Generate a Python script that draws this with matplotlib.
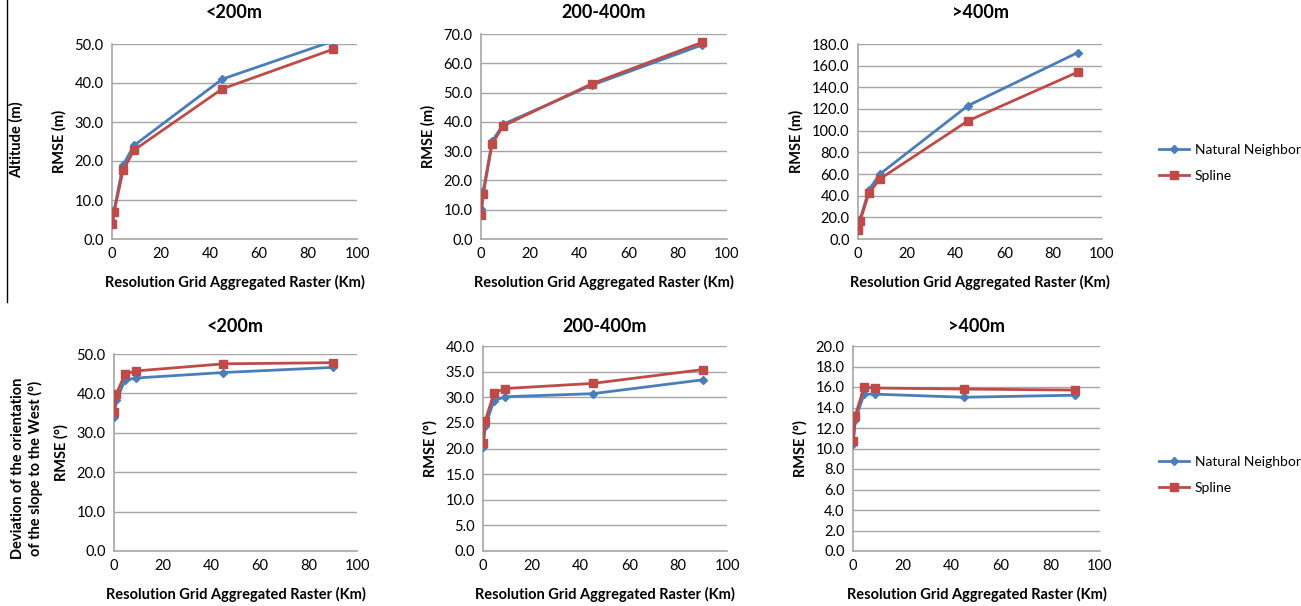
import matplotlib
matplotlib.use("Agg")
import matplotlib.pyplot as plt
from matplotlib.lines import Line2D

plt.rcParams["font.family"] = ["Lato", "DejaVu Sans"]

# resolution of the aggregated raster (km)
res_km = [0.09, 0.9, 4.5, 9, 45, 90]

titles = ["<200m", "200-400m", ">400m"]

# altitude RMSE (m)
alt_nn = [
    [4.5, 7.5, 19.0, 24.0, 41.0, 50.7],
    [10.3, 16.4, 33.3, 39.2, 52.5, 66.3],
    [10.5, 18.5, 45.5, 60.0, 123.0, 172.0],
]
alt_spline = [
    [3.8, 7.0, 17.6, 22.8, 38.5, 48.6],
    [8.3, 15.2, 32.4, 38.6, 53.0, 67.2],
    [8.5, 17.0, 42.5, 55.5, 109.0, 154.0],
]

# deviation of slope orientation RMSE (deg)
dev_nn = [
    [33.9, 38.2, 43.3, 43.9, 45.3, 46.6],
    [20.3, 24.4, 29.3, 30.1, 30.7, 33.4],
    [10.4, 12.8, 15.3, 15.3, 15.0, 15.2],
]
dev_spline = [
    [35.4, 39.8, 44.9, 45.7, 47.5, 47.8],
    [21.1, 25.4, 30.8, 31.7, 32.7, 35.4],
    [10.7, 13.2, 16.0, 15.9, 15.8, 15.7],
]

alt_ymax = [50, 70, 180]
alt_ystep = [10, 10, 20]
dev_ymax = [50, 40, 20]
dev_ystep = [10, 5, 2]

blue = "#4A7EBB"
red = "#BE4B48"
grid = "#A6A6A6"

W, H = 1301, 606
fig = plt.figure(figsize=(W / 100, H / 100), dpi=100)

# axes boxes in pixels: left, right, top, bottom
top_boxes = [(112, 357, 44, 239), (481, 727, 34, 239), (858, 1102, 44, 239)]
bot_boxes = [(114, 357, 354, 551), (483, 727, 346, 551), (853, 1100, 346, 551)]


def make_ax(box):
    l, r, t, b = box
    return fig.add_axes([l / W, 1 - b / H, (r - l) / W, (b - t) / H])


def draw_panel(ax, nn, sp, ymax, ystep, ylabel):
    ax.plot(res_km, nn, color=blue, marker="D", markersize=4, lw=2,
            label="Natural Neighbor", zorder=3)
    ax.plot(res_km, sp, color=red, marker="s", markersize=6, lw=2,
            label="Spline", zorder=3)
    ax.set_xlim(0, 100)
    ax.set_ylim(0, ymax)
    ax.set_xticks(range(0, 101, 20))
    yt = [i * ystep for i in range(int(round(ymax / ystep)) + 1)]
    ax.set_yticks(yt)
    ax.set_yticklabels([f"{v:.1f}" for v in yt])
    ax.grid(axis="y", color=grid, lw=1)
    ax.set_axisbelow(True)
    for s in ["top", "right"]:
        ax.spines[s].set_visible(False)
    for s in ["left", "bottom"]:
        ax.spines[s].set_color(grid)
        ax.spines[s].set_linewidth(1.2)
    ax.tick_params(length=0, labelsize=10.5, pad=6)
    ax.set_xlabel("Resolution Grid Aggregated Raster (Km)", fontsize=10.5,
                  fontweight="bold", labelpad=10)
    ax.set_ylabel(ylabel, fontsize=10.5, fontweight="bold", labelpad=6)


def add_legend(ax, y_px):
    h, l = ax.get_legend_handles_labels()
    fig.legend(h, l, loc="center left", bbox_to_anchor=(1146 / W, 1 - y_px / H),
               frameon=False, fontsize=10, handlelength=2.2, handletextpad=0.4,
               labelspacing=1.0)


for i in range(3):
    ax = make_ax(top_boxes[i])
    draw_panel(ax, alt_nn[i], alt_spline[i], alt_ymax[i], alt_ystep[i], "RMSE (m)")
    cx = (top_boxes[i][0] + top_boxes[i][1]) / 2
    fig.text(cx / W, 1 - 13 / H, titles[i], ha="center", va="center",
             fontsize=13, fontweight="bold")
    if i == 2:
        add_legend(ax, 163)

for i in range(3):
    ax = make_ax(bot_boxes[i])
    draw_panel(ax, dev_nn[i], dev_spline[i], dev_ymax[i], dev_ystep[i], "RMSE (°)")
    cx = (bot_boxes[i][0] + bot_boxes[i][1]) / 2
    fig.text(cx / W, 1 - 327 / H, titles[i], ha="center", va="center",
             fontsize=13, fontweight="bold")
    if i == 2:
        add_legend(ax, 475)

# row labels
fig.text(16 / W, 1 - 140 / H, "Altitude (m)", rotation=90, ha="center",
         va="center", fontsize=10.5, fontweight="bold")
fig.text(27 / W, 1 - 468 / H, "Deviation of the orientation\nof the slope to the West (°)",
         rotation=90, ha="center", va="center", fontsize=10.5, fontweight="bold",
         multialignment="center")

# separator line on the left of the top row
fig.add_artist(Line2D([7 / W, 7 / W], [1, 1 - 302 / H], color="black", lw=1))

fig.savefig("out.png", dpi=100)
